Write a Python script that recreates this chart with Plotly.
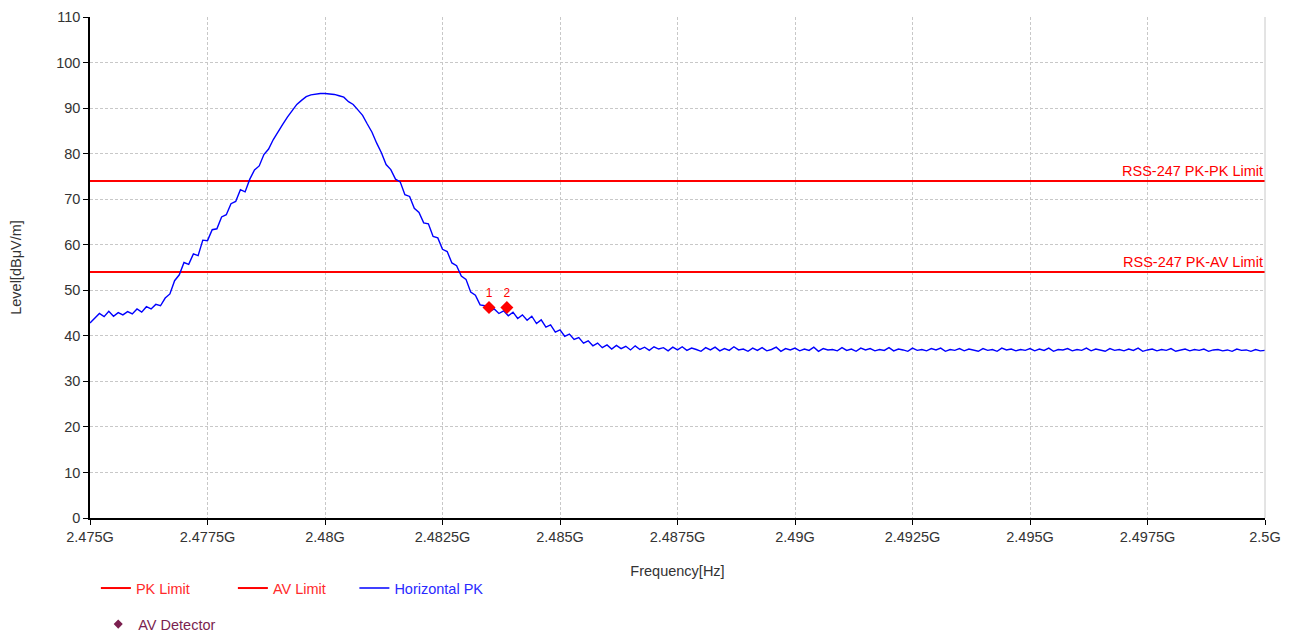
import numpy as np
import plotly.graph_objects as go

# sweep 2.475 GHz .. 2.5 GHz, values every 0.1 MHz
freq_start = 2.475e9
freq_stop = 2.5e9
horizontal_pk = [
    42.8, 43.9, 44.9, 44.2, 45.4, 44.3, 45.1, 44.6, 45.3, 44.8,
    45.9, 45.2, 46.4, 45.9, 46.9, 46.6, 48.3, 49.2, 52.1, 53.4,
    56.1, 55.7, 58.0, 57.6, 61.0, 60.9, 63.3, 63.5, 66.1, 66.6,
    69.0, 69.5, 72.1, 71.6, 74.4, 76.4, 77.3, 79.8, 81.0, 83.1,
    84.9, 86.4, 88.0, 89.4, 90.8, 91.7, 92.5, 92.9, 93.1, 93.2,
    93.2, 93.1, 93.0, 92.7, 92.4, 91.4, 90.8, 89.6, 88.4, 86.5,
    84.7, 82.3, 80.2, 77.6, 76.5, 74.4, 73.8, 71.0, 70.6, 68.0,
    67.1, 64.8, 64.6, 61.8, 61.5, 59.0, 58.5, 56.0, 55.4, 53.1,
    52.4, 49.6, 48.9, 46.8, 46.6, 45.3, 45.9, 44.9, 45.5, 44.4,
    45.2, 43.8, 44.6, 43.4, 44.3, 42.7, 43.5, 41.9, 42.4, 40.8,
    41.3, 39.9, 40.4, 39.2, 39.6, 38.4, 38.9, 37.8, 38.4, 37.4,
    38.0, 37.1, 37.9, 37.2, 37.7, 36.9, 37.8, 37.0, 37.5, 36.8,
    37.6, 37.1, 37.4, 36.7, 37.5, 36.9, 37.6, 36.8, 37.3, 37.0,
    36.6, 37.4, 36.9, 37.5, 36.7, 37.2, 36.8, 37.6, 36.9, 37.1,
    36.6, 37.3, 36.8, 37.4, 36.7, 37.0, 37.5, 36.6, 37.2, 36.9,
    37.3, 36.7, 37.1, 36.8, 37.5, 36.6, 37.2, 36.9, 37.0, 36.7,
    37.4, 36.8, 37.1, 36.6, 37.3, 36.9, 37.2, 36.7, 37.0, 36.8,
    37.4, 36.7, 37.1, 36.9, 36.6, 37.3, 36.8, 37.0, 36.7, 37.2,
    36.9, 37.3, 36.6, 37.0, 36.8, 37.2, 36.7, 37.1, 36.9, 36.6,
    37.2, 36.8, 37.0, 36.6, 37.3, 36.9, 37.1, 36.7, 37.0, 36.8,
    37.2, 36.7, 37.1, 36.8, 37.3, 36.6, 37.0, 36.9, 37.2, 36.7,
    37.0, 36.8, 37.3, 36.7, 37.1, 36.9, 36.6, 37.2, 36.8, 37.0,
    36.7, 37.1, 36.8, 37.3, 36.6, 36.9, 37.1, 36.7, 37.0, 36.8,
    37.2, 36.6, 36.9, 37.1, 36.7, 37.0, 36.8, 37.1, 36.6, 36.9,
    37.0, 36.7, 36.9, 36.6, 37.1, 36.8, 36.9, 36.6, 37.0, 36.7, 36.8,
]
freqs = np.linspace(freq_start, freq_stop, len(horizontal_pk))

pk_limit = 74
av_limit = 54

det_freqs = [2.48349e9, 2.48387e9]
det_levels = [46.2, 46.2]
det_labels = ["1", "2"]

tick_vals = [2.475e9, 2.4775e9, 2.48e9, 2.4825e9, 2.485e9, 2.4875e9,
             2.49e9, 2.4925e9, 2.495e9, 2.4975e9, 2.5e9]
tick_text = ["2.475G", "2.4775G", "2.48G", "2.4825G", "2.485G", "2.4875G",
             "2.49G", "2.4925G", "2.495G", "2.4975G", "2.5G"]

RED = "#ff0000"
BLUE = "#0000ff"
MAROON = "#7b1f4f"
FONT = "Liberation Sans, Arial, sans-serif"

fig = go.Figure()

fig.add_trace(go.Scatter(
    x=[freq_start, freq_stop], y=[pk_limit, pk_limit], mode="lines",
    name='<span style="color:#ff2a2a">PK Limit</span>',
    line=dict(color=RED, width=2), legend="legend"
))
fig.add_trace(go.Scatter(
    x=[freq_start, freq_stop], y=[av_limit, av_limit], mode="lines",
    name='<span style="color:#ff2a2a">AV Limit</span>',
    line=dict(color=RED, width=2), legend="legend"
))
fig.add_trace(go.Scatter(
    x=freqs, y=horizontal_pk, mode="lines",
    name='<span style="color:#2a2aff">Horizontal PK</span>',
    line=dict(color=BLUE, width=1.4), legend="legend3"
))
# detector markers on the plot (red), legend entry in maroon
fig.add_trace(go.Scatter(
    x=det_freqs, y=det_levels, mode="markers+text",
    text=det_labels, textposition="top center",
    textfont=dict(color=RED, size=12, family=FONT),
    marker=dict(symbol="diamond", color=RED, size=10),
    showlegend=False
))
fig.add_trace(go.Scatter(
    x=[None], y=[None], mode="markers",
    name='<span style="color:#7b1f4f">AV Detector</span>',
    marker=dict(symbol="diamond", color=MAROON, size=7),
    legend="legend2"
))

for lvl, label in [(pk_limit, "RSS-247 PK-PK Limit"), (av_limit, "RSS-247 PK-AV Limit")]:
    fig.add_annotation(
        x=1, xref="paper", y=lvl, yref="y", text=label, showarrow=False,
        xanchor="right", yanchor="bottom", yshift=0,
        font=dict(color=RED, size=14.5, family=FONT)
    )

# light right border
fig.add_shape(type="line", xref="paper", yref="paper", x0=1, x1=1, y0=0, y1=1,
              line=dict(color="#c8c8c8", width=1))

legend_style = dict(orientation="h", xanchor="left", yanchor="top",
                    xref="paper", yref="paper",
                    bgcolor="rgba(0,0,0,0)", font=dict(size=14.5))

# page body has an 8px margin, so the plot area is shifted up/left by 8px
fig.update_layout(
    width=1297, height=635,
    margin=dict(l=82, r=40, t=9, b=125, autoexpand=False),
    plot_bgcolor="white", paper_bgcolor="white",
    font=dict(family=FONT, size=14.5, color="#333333"),
    xaxis=dict(
        range=[freq_start, freq_stop], tickvals=tick_vals, ticktext=tick_text,
        showgrid=True, gridcolor="#c8c8c8", griddash="3px,2px", gridwidth=1,
        showline=True, linecolor="black", linewidth=1.5,
        ticks="outside", ticklen=5, tickcolor="black",
        zeroline=False, ticklabeloverflow="allow",
        title=dict(text="Frequency[Hz]", font=dict(size=14.5), standoff=22),
    ),
    yaxis=dict(
        range=[0, 110], tickvals=list(range(0, 111, 10)),
        showgrid=True, gridcolor="#c8c8c8", griddash="3px,2px", gridwidth=1,
        showline=True, linecolor="black", linewidth=1.5,
        ticks="outside", ticklen=5, tickcolor="black",
        zeroline=False, ticklabeloverflow="allow",
        title=dict(text="Level[dBμV/m]", font=dict(size=14.5), standoff=38),
    ),
    legend=dict(x=0.005, y=-0.108, entrywidth=92, entrywidthmode="pixels", **legend_style),
    legend3=dict(x=0.225, y=-0.108, **legend_style),
    legend2=dict(x=0.007, y=-0.18, **legend_style),
)

fig.write_html("out.html")
